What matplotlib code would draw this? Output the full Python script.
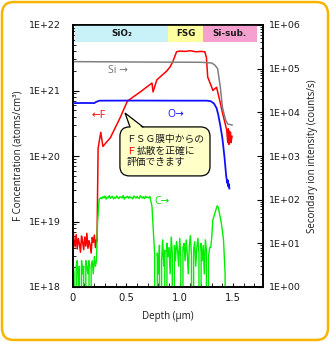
import numpy as np
import matplotlib
matplotlib.use("Agg")
import matplotlib.pyplot as plt
from matplotlib.patches import FancyBboxPatch, Polygon
from matplotlib.ticker import FixedLocator, FixedFormatter, LogLocator, MultipleLocator, NullFormatter

# F concentration (atoms/cm3), left axis
f_noise = [7.6e18, 5.2e18, 4.1e18, 6.3e18, 3.8e18, 5.5e18, 4.6e18, 3.4e18, 6.0e18, 4.9e18, 3.7e18, 5.8e18,
           4.2e18, 6.6e18, 3.9e18, 5.1e18, 4.4e18, 3.3e18, 5.7e18, 4.8e18, 6.2e18, 4.0e18, 5.3e18]
f_depth = [0.225, 0.235, 0.26, 0.28, 0.31, 0.35, 0.44, 0.51, 0.63, 0.74, 0.75, 0.785, 0.88, 0.91, 0.935,
           0.97, 1.00, 1.05, 1.10, 1.15, 1.20, 1.235, 1.25, 1.262, 1.30, 1.31, 1.345, 1.375, 1.40, 1.44,
           1.45, 1.455, 1.46, 1.465, 1.47, 1.475, 1.48, 1.49]
f_conc = [5e18, 1.3e20, 2.3e20, 1.4e20, 1.6e20, 1.9e20, 3.8e20, 6.9e20, 9.5e20, 1.3e21, 9.5e20, 1.45e21,
          2.0e21, 2.3e21, 2.75e21, 3.9e21, 4.0e21, 3.95e21, 4.05e21, 3.9e21, 3.95e21, 3.9e21, 3.2e21,
          1.6e21, 1.12e21, 1.0e21, 1.12e21, 7e20, 4.6e20, 2.5e20, 1.6e20, 2.6e20, 1.5e20, 2.4e20, 1.7e20,
          2.3e20, 1.6e20, 2.0e20]

# Si secondary ion intensity (counts/s)
si_depth = [0.0, 0.6, 1.2, 1.30, 1.33, 1.355, 1.38, 1.40, 1.43, 1.45, 1.49]
si_int = [1.45e5, 1.42e5, 1.4e5, 1.35e5, 1.2e5, 1.0e5, 3.8e4, 1.3e4, 6.6e3, 5.4e3, 5.1e3]

# O secondary ion intensity (counts/s)
o_depth = [0.0, 0.10, 0.20, 0.22, 0.25, 0.6, 1.0, 1.25, 1.29, 1.32, 1.345, 1.36, 1.38, 1.40, 1.42,
           1.435, 1.445, 1.45, 1.455, 1.46, 1.465]
o_int = [1.62e4, 1.64e4, 1.63e4, 1.75e4, 1.85e4, 1.86e4, 1.85e4, 1.85e4, 1.8e4, 1.6e4, 1.25e4, 9e3,
         5e3, 2.5e3, 9e2, 3.5e2, 2.4e2, 2.8e2, 2.0e2, 2.3e2, 1.8e2]

# C secondary ion intensity (counts/s)
c_noise1 = [4, 2, 0, 3, 4, 1, 3, 0, 4, 2, 3, 0, 4, 3, 2, 4, 0, 3, 4, 2, 5, 3, 4]
c_rise_depth = [0.23, 0.245]
c_rise = [30, 100]
c_plateau = [112, 105, 118, 109, 121, 103, 115, 110, 124, 107, 116, 119, 104, 113, 108, 122, 111, 106,
             117, 114, 109, 125, 103, 115, 112, 120, 107, 118, 110, 113, 104, 121, 116, 108, 119, 111,
             106, 123, 114, 109, 117, 105, 120, 112, 115, 110, 118]
c_drop_depth = [0.74, 0.765, 0.775]
c_drop = [70, 5.5, 0]
c_noise2 = [0, 6, 2, 9, 0, 4, 12, 3, 7, 0, 10, 5, 8, 2, 14, 6, 0, 9, 4, 11, 7, 3, 13, 5, 0, 8, 10, 4,
            12, 6, 2, 9, 15, 5, 0, 7, 11, 3, 8, 13, 6, 0, 10, 4, 9, 2, 12, 7, 0, 5, 8]
c_peak_depth = [1.29, 1.30, 1.31, 1.33, 1.35, 1.36, 1.375, 1.39, 1.41, 1.425, 1.43, 1.50]
c_peak = [8, 14, 34, 50, 72, 68, 45, 29, 12, 2, 0, 0]

# layer bands
layers = ["SiO₂", "FSG", "Si-sub."]
layer_edges = [0.02, 0.89, 1.22, 1.72]
layer_colors = ["#c8f1f8", "#ffffa0", "#f6a0cf"]

left_ticks = [1e18, 1e19, 1e20, 1e21, 1e22]
left_labels = ["1E+18", "1E+19", "1E+20", "1E+21", "1E+22"]
right_ticks = [1e0, 1e1, 1e2, 1e3, 1e4, 1e5, 1e6]
right_labels = ["1E+00", "1E+01", "1E+02", "1E+03", "1E+04", "1E+05", "1E+06"]
x_ticks = [0, 0.5, 1.0, 1.5]
x_labels = ["0", "0.5", "1.0", "1.5"]

# assemble full depth profiles
f_x = np.concatenate([np.linspace(0.0, 0.22, len(f_noise)), f_depth])
f_y = np.concatenate([f_noise, f_conc])
c_x = np.concatenate([np.linspace(0.0, 0.22, len(c_noise1)), c_rise_depth,
                      np.linspace(0.26, 0.72, len(c_plateau)), c_drop_depth,
                      np.linspace(0.78, 1.28, len(c_noise2)), c_peak_depth])
c_y = np.concatenate([c_noise1, c_rise, c_plateau, c_drop, c_noise2, c_peak]).astype(float)

txt = "#1a1a1a"
lat = ["Open Sans", "DejaVu Sans"]
fig = plt.figure(figsize=(3.3, 3.42), dpi=100)
ax = fig.add_axes([73 / 330, 55 / 342, 190 / 330, 262 / 342])
ax2 = ax.twinx()

ax.set_xlim(0, 1.78)
ax.set_yscale("log")
ax.set_ylim(1e18, 1e22)
ax2.set_yscale("log", nonpositive="clip")
ax2.set_ylim(1, 1e6)

ax.plot(f_x, f_y, color="#ff0000", lw=1.1, zorder=3)
ax2.plot(si_depth, si_int, color="#808080", lw=1.1, zorder=2)
ax2.plot(o_depth, o_int, color="#1010ff", lw=1.3, zorder=3)
ax2.plot(c_x, c_y, color="#00ee00", lw=1.0, zorder=2)

# layer bands across the top
for name, x0, x1, col in zip(layers, layer_edges[:-1], layer_edges[1:], layer_colors):
    ax2.axvspan(x0, x1, ymin=0.935, ymax=1.0, color=col, lw=0, zorder=1)
    ax2.text((x0 + x1) / 2, 0.9675, name, transform=ax2.get_xaxis_transform(), ha="center",
             va="center", fontsize=6.3, fontweight="bold", color=txt, zorder=4)

# ticks and labels
ax.yaxis.set_major_locator(FixedLocator(left_ticks))
ax.yaxis.set_major_formatter(FixedFormatter(left_labels))
ax.yaxis.set_minor_locator(LogLocator(base=10, subs=np.arange(2, 10)))
ax.yaxis.set_minor_formatter(NullFormatter())
ax2.yaxis.set_major_locator(FixedLocator(right_ticks))
ax2.yaxis.set_major_formatter(FixedFormatter(right_labels))
ax2.yaxis.set_minor_locator(LogLocator(base=10, subs=np.arange(2, 10)))
ax2.yaxis.set_minor_formatter(NullFormatter())
ax.xaxis.set_major_locator(FixedLocator(x_ticks))
ax.xaxis.set_major_formatter(FixedFormatter(x_labels))
ax.xaxis.set_minor_locator(MultipleLocator(0.1))

for a in (ax, ax2):
    a.tick_params(which="both", direction="in", colors="black", labelcolor=txt, labelsize=6.8)
    a.tick_params(which="major", length=4, width=0.8)
    a.tick_params(which="minor", length=2, width=0.6)
    for s in a.spines.values():
        s.set_linewidth(1.2)
ax.tick_params(axis="y", pad=9)
ax2.tick_params(axis="y", pad=4)
ax.tick_params(axis="x", which="both", length=3, pad=4)
for lab in ax.get_xticklabels():
    lab.set_fontsize(7.2)

ax.set_xlabel("Depth (μm)", fontsize=7, color=txt, family=lat, labelpad=6)
ax.set_ylabel("F Concentration (atoms/cm³)", fontsize=7, color=txt, family=lat, labelpad=4)
ax2.set_ylabel("Secondary ion intensity (counts/s)", fontsize=7, color=txt, family=lat,
               labelpad=5)

# curve labels
ax2.text(0.184, 0.825, "Si →", transform=ax2.transAxes, color="#707070", fontsize=7.5,
         family=lat, va="center")
ax2.text(0.10, 0.653, "←F", transform=ax2.transAxes, color="#ff0000", fontsize=7.5,
         family=lat, va="center")
ax2.text(0.495, 0.657, "O→", transform=ax2.transAxes, color="#1010ff", fontsize=7.5,
         family=lat, va="center")
ax2.text(0.43, 0.328, "C→", transform=ax2.transAxes, color="#00dd00", fontsize=7.5,
         family=lat, va="center")

# callout box
box_fc = "#ffffc8"
box = FancyBboxPatch((0.247, 0.424), 0.474, 0.187, boxstyle="round,pad=0,rounding_size=0.05",
                     mutation_aspect=190 / 262, transform=ax2.transAxes, facecolor=box_fc,
                     edgecolor="black", lw=0.9, zorder=6)
ax2.add_patch(box)
tail = [(0.300, 0.605), (0.274, 0.664), (0.368, 0.605)]
ax2.add_patch(Polygon(tail, closed=True, transform=ax2.transAxes, facecolor=box_fc,
                      edgecolor="none", zorder=7))
ax2.plot([0.300, 0.274, 0.368], [0.611, 0.664, 0.611], transform=ax2.transAxes, color="black",
         lw=0.9, zorder=8, solid_joinstyle="miter")
cjk = ["Noto Sans CJK JP", "DejaVu Sans"]
cfs = 7.0
step = cfs * 100 / 72 / 190  # one full-width character in axes units
ax2.text(0.282, 0.566, "ＦＳＧ膜中からの", transform=ax2.transAxes, fontsize=cfs, family=cjk,
         color=txt, va="center", zorder=9)
ax2.text(0.282, 0.521, "Ｆ", transform=ax2.transAxes, fontsize=cfs, family=cjk,
         color="#ff0000", va="center", zorder=9)
ax2.text(0.282 + step, 0.521, "拡散を正確に", transform=ax2.transAxes, fontsize=cfs, family=cjk,
         color=txt, va="center", zorder=9)
ax2.text(0.282, 0.476, "評価できます", transform=ax2.transAxes, fontsize=cfs, family=cjk,
         color=txt, va="center", zorder=9)

# rounded outer frame
frame = FancyBboxPatch((0.006, 0.006), 0.988, 0.988, boxstyle="round,pad=0,rounding_size=0.035",
                       transform=fig.transFigure, facecolor="none", edgecolor="#f7b500", lw=1.8)
fig.add_artist(frame)

fig.savefig("out.png", dpi=100)
